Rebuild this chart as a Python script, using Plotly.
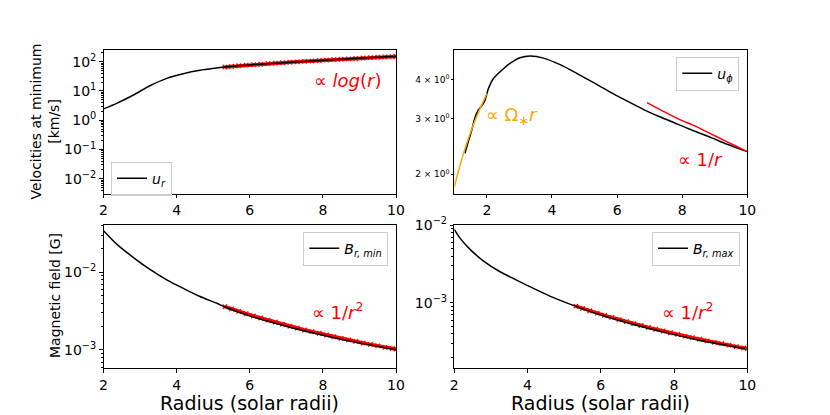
import plotly.graph_objects as go

# ---------------- data ----------------
# top-left: radial velocity u_r [km/s]
R_UR = [2.0, 2.36, 2.82, 3.27, 3.73, 4.18, 4.64, 5.10, 5.32, 5.9, 6.46, 7.37, 8.29, 9.2, 10.0]
UR = [2.45, 3.78, 7.3, 15.1, 27.0, 39.0, 51.0, 61.0, 66.0, 76.0, 85.0, 100.0, 117.0, 137.0, 150.0]
R_FIT = [5.32, 5.5, 5.7, 5.9, 6.1, 6.3, 6.5, 6.7, 6.9, 7.1, 7.3, 7.5, 7.7, 7.9, 8.1, 8.3,
         8.5, 8.7, 8.9, 9.1, 9.3, 9.5, 9.7, 9.9, 10.0]
LOGFIT = [66, 69, 72.5, 76, 79, 82, 86, 89, 92, 95.5, 99, 102, 106, 110, 113, 117,
          121, 125, 129, 134, 138, 142, 146, 150, 152]

# top-right: azimuthal velocity u_phi [km/s]
R_UPHI = [1.33, 1.36, 1.43, 1.535, 1.64, 1.74, 1.86, 1.945, 2.05, 2.2, 2.51, 2.71, 3.02, 3.33,
          3.74, 4.25, 4.77, 5.28, 5.79, 6.30, 6.82, 7.33, 7.84, 8.35, 8.87, 9.38, 10.0]
UPHI = [2.33, 2.40, 2.54, 2.76, 3.04, 3.20, 3.32, 3.44, 3.75, 4.03, 4.33, 4.50, 4.69, 4.75,
        4.68, 4.46, 4.18, 3.91, 3.65, 3.42, 3.21, 3.04, 2.89, 2.75, 2.62, 2.49, 2.36]
R_OMEGA = [1.0, 1.25, 1.5, 1.75, 2.0]
OMEGA = [1.82, 2.27, 2.72, 3.16, 3.61]
R_INV = [6.92, 7.5, 8.0, 8.35, 9.0, 9.5, 10.0]
INV = [3.38, 3.14, 2.96, 2.86, 2.65, 2.50, 2.36]

# bottom-left: B_r at minimum [G]
R_BMIN = [2.0, 2.36, 2.82, 3.27, 3.73, 4.18, 4.64, 5.10, 5.32, 6.0, 6.92, 7.83, 8.74, 10.0]
BMIN = [0.0343, 0.0231, 0.0155, 0.0109, 0.00800, 0.00622, 0.00488, 0.00399, 0.00358,
        0.00275, 0.00207, 0.00162, 0.00130, 0.00101]
BMIN_FIT = [0.00362, 0.00338, 0.00314, 0.00293, 0.00274, 0.00258, 0.00242, 0.00228, 0.00214,
            0.00202, 0.00192, 0.00181, 0.00172, 0.00164, 0.00156, 0.00148, 0.00141, 0.00135,
            0.00129, 0.00123, 0.00118, 0.00113, 0.00108, 0.00104, 0.00103]

# bottom-right: B_r at maximum [G]
R_BMAX = [2.0, 2.16, 2.43, 2.79, 3.25, 3.70, 4.16, 4.61, 5.32, 5.98, 6.89, 7.80, 8.71, 9.94]
BMAX = [0.00881, 0.00674, 0.00487, 0.00347, 0.00251, 0.00196, 0.00153, 0.00122, 0.000900,
        0.000700, 0.000525, 0.000410, 0.000328, 0.000258]
BMAX_FIT = [0.000908, 0.000848, 0.000790, 0.000738, 0.000690, 0.000648, 0.000608, 0.000572,
            0.000540, 0.000510, 0.000482, 0.000457, 0.000433, 0.000412, 0.000392, 0.000373,
            0.000356, 0.000340, 0.000324, 0.000310, 0.000297, 0.000285, 0.000273, 0.000262,
            0.000257]

X_TICKS = [2, 4, 6, 8, 10]
TL_TICKS = [0.01, 0.1, 1, 10, 100]
TL_LABELS = ["10<sup>−2</sup>", "10<sup>−1</sup>", "10<sup>0</sup>", "10<sup>1</sup>", "10<sup>2</sup>"]
TR_TICKS = [2, 3, 4]
TR_LABELS = ["2 × 10<sup>0</sup>", "3 × 10<sup>0</sup>", "4 × 10<sup>0</sup>"]
B_TICKS = [0.001, 0.01]
B_LABELS = ["10<sup>−3</sup>", "10<sup>−2</sup>"]

# ---------------- figure ----------------
FONT = "DejaVu Sans"
W, H = 830, 415
fig = go.Figure()

def fit_trace(x, y, xa, ya):
    return go.Scatter(x=x, y=y, mode="lines+markers", xaxis=xa, yaxis=ya, showlegend=False,
                      line=dict(color="red", width=3.5),
                      marker=dict(symbol="x-thin", size=4.5, line=dict(color="red", width=1.2)),
                      hoverinfo="skip")

def black(x, y, name, xa, ya, leg):
    return go.Scatter(x=x, y=y, mode="lines", line=dict(color="black", width=1.5, shape="spline", smoothing=0.7),
                      name=name, xaxis=xa, yaxis=ya, legend=leg)

# top-left
fig.add_trace(fit_trace(R_FIT, LOGFIT, "x", "y"))
fig.add_trace(black(R_UR, UR, "<i>u</i><sub><i>r</i></sub>", "x", "y", "legend"))
# top-right
fig.add_trace(black(R_UPHI, UPHI, "<i>u</i><sub><i>ϕ</i></sub>", "x2", "y2", "legend2"))
fig.add_trace(go.Scatter(x=R_OMEGA, y=OMEGA, mode="lines", line=dict(color="orange", width=1.5, shape="spline"),
                         showlegend=False, xaxis="x2", yaxis="y2"))
fig.add_trace(go.Scatter(x=R_INV, y=INV, mode="lines", line=dict(color="red", width=1.5, shape="spline"),
                         showlegend=False, xaxis="x2", yaxis="y2"))
# bottom-left
fig.add_trace(fit_trace(R_FIT, BMIN_FIT, "x3", "y3"))
fig.add_trace(black(R_BMIN, BMIN, "<i>B<sub>r, min</sub></i>", "x3", "y3", "legend3"))
# bottom-right
fig.add_trace(fit_trace(R_FIT, BMAX_FIT, "x4", "y4"))
fig.add_trace(black(R_BMAX, BMAX, "<i>B<sub>r, max</sub></i>", "x4", "y4", "legend4"))

def px(v):
    return v / W

def py(v):
    return 1 - v / H

axis_common = dict(showline=True, mirror=True, linecolor="black", linewidth=0.8,
                   ticks="outside", ticklen=3.5, tickwidth=0.8, tickcolor="black",
                   showgrid=False, zeroline=False, automargin=False,
                   tickfont=dict(family=FONT, size=14, color="black"))

def minor_vals(d0, d1):
    return [k * 10 ** d for d in range(d0, d1 + 1) for k in range(2, 10)]

minor_common = dict(ticks="outside", ticklen=2, tickwidth=0.6, tickcolor="black", showgrid=False)

xdom_l = [px(103.5), px(396)]
xdom_r = [px(454.3), px(747.3)]
ydom_t = [py(194), py(49.7)]
ydom_b = [py(368.3), py(224.7)]

fig.update_layout(
    template="none",
    width=W, height=H, margin=dict(l=0, r=0, t=0, b=0, pad=0), autosize=False,
    paper_bgcolor="white", plot_bgcolor="white",
    font=dict(family=FONT, color="black"),
    xaxis=dict(axis_common, domain=xdom_l, anchor="y", range=[2, 10], tickmode="array", tickvals=X_TICKS),
    yaxis=dict(axis_common, domain=ydom_t, anchor="x", type="log", range=[-2.52, 2.41],
               tickmode="array", tickvals=TL_TICKS, ticktext=TL_LABELS,
               minor=dict(minor_common, tickmode="array", tickvals=minor_vals(-3, 2))),
    xaxis2=dict(axis_common, domain=xdom_r, anchor="y2", range=[1, 10], tickmode="array", tickvals=X_TICKS),
    yaxis2=dict(axis_common, domain=ydom_t, anchor="x2", type="log", range=[0.238, 0.697],
                tickmode="array", tickvals=TR_TICKS, ticktext=TR_LABELS, ticklen=2,
                tickfont=dict(family=FONT, size=9, color="black")),
    xaxis3=dict(axis_common, domain=xdom_l, anchor="y3", range=[2, 10], tickmode="array", tickvals=X_TICKS),
    yaxis3=dict(axis_common, domain=ydom_b, anchor="x3", type="log", range=[-3.236, -1.387],
                tickmode="array", tickvals=B_TICKS, ticktext=B_LABELS,
                minor=dict(minor_common, tickmode="array", tickvals=minor_vals(-4, -2))),
    xaxis4=dict(axis_common, domain=xdom_r, anchor="y4", range=[2, 10], tickmode="array", tickvals=X_TICKS),
    yaxis4=dict(axis_common, domain=ydom_b, anchor="x4", type="log", range=[-3.843, -1.995],
                tickmode="array", tickvals=B_TICKS, ticktext=B_LABELS,
                minor=dict(minor_common, tickmode="array", tickvals=minor_vals(-4, -2))),
)

leg_common = dict(bgcolor="rgba(255,255,255,0.8)", bordercolor="#cccccc", borderwidth=1,
                  font=dict(family=FONT, size=14, color="black"), itemwidth=30,
                  xref="paper", yref="paper", tracegroupgap=0)
fig.update_layout(
    legend=dict(leg_common, x=px(111), y=py(161.7), xanchor="left", yanchor="top"),
    legend2=dict(leg_common, x=px(739.3), y=py(56.7), xanchor="right", yanchor="top"),
    legend3=dict(leg_common, x=px(388.3), y=py(231.7), xanchor="right", yanchor="top"),
    legend4=dict(leg_common, x=px(740), y=py(231.7), xanchor="right", yanchor="top"),
)

def ann(text, x, y, color="black", size=18, angle=0):
    fig.add_annotation(text=text, x=px(x), y=py(y), xref="paper", yref="paper",
                       showarrow=False, xanchor="center", yanchor="middle", textangle=angle,
                       font=dict(family=FONT, size=size, color=color))

ann("∝ <i>log</i>(<i>r</i>)", 347.5, 80.7, "red")
ann("∝ Ω<sub>∗</sub><i>r</i>", 511.5, 116, "orange")
ann("∝ 1/<i>r</i>", 700.5, 159, "red")
ann("∝ 1/<i>r</i><sup>2</sup>", 338, 310.7, "red")
ann("∝ 1/<i>r</i><sup>2</sup>", 688, 310.7, "red")
ann("Velocities at minimum<br>[km/s]", 44.5, 121.9, size=14, angle=-90)
ann("Magnetic field [G]", 55, 296, size=14, angle=-90)
ann("Radius (solar radii)", 249.75, 402.7, size=19)
ann("Radius (solar radii)", 600.8, 402.7, size=19)

fig.write_html("out.html", config={"displayModeBar": False},
               post_script="document.body.style.margin='0';document.body.style.padding='0';")
